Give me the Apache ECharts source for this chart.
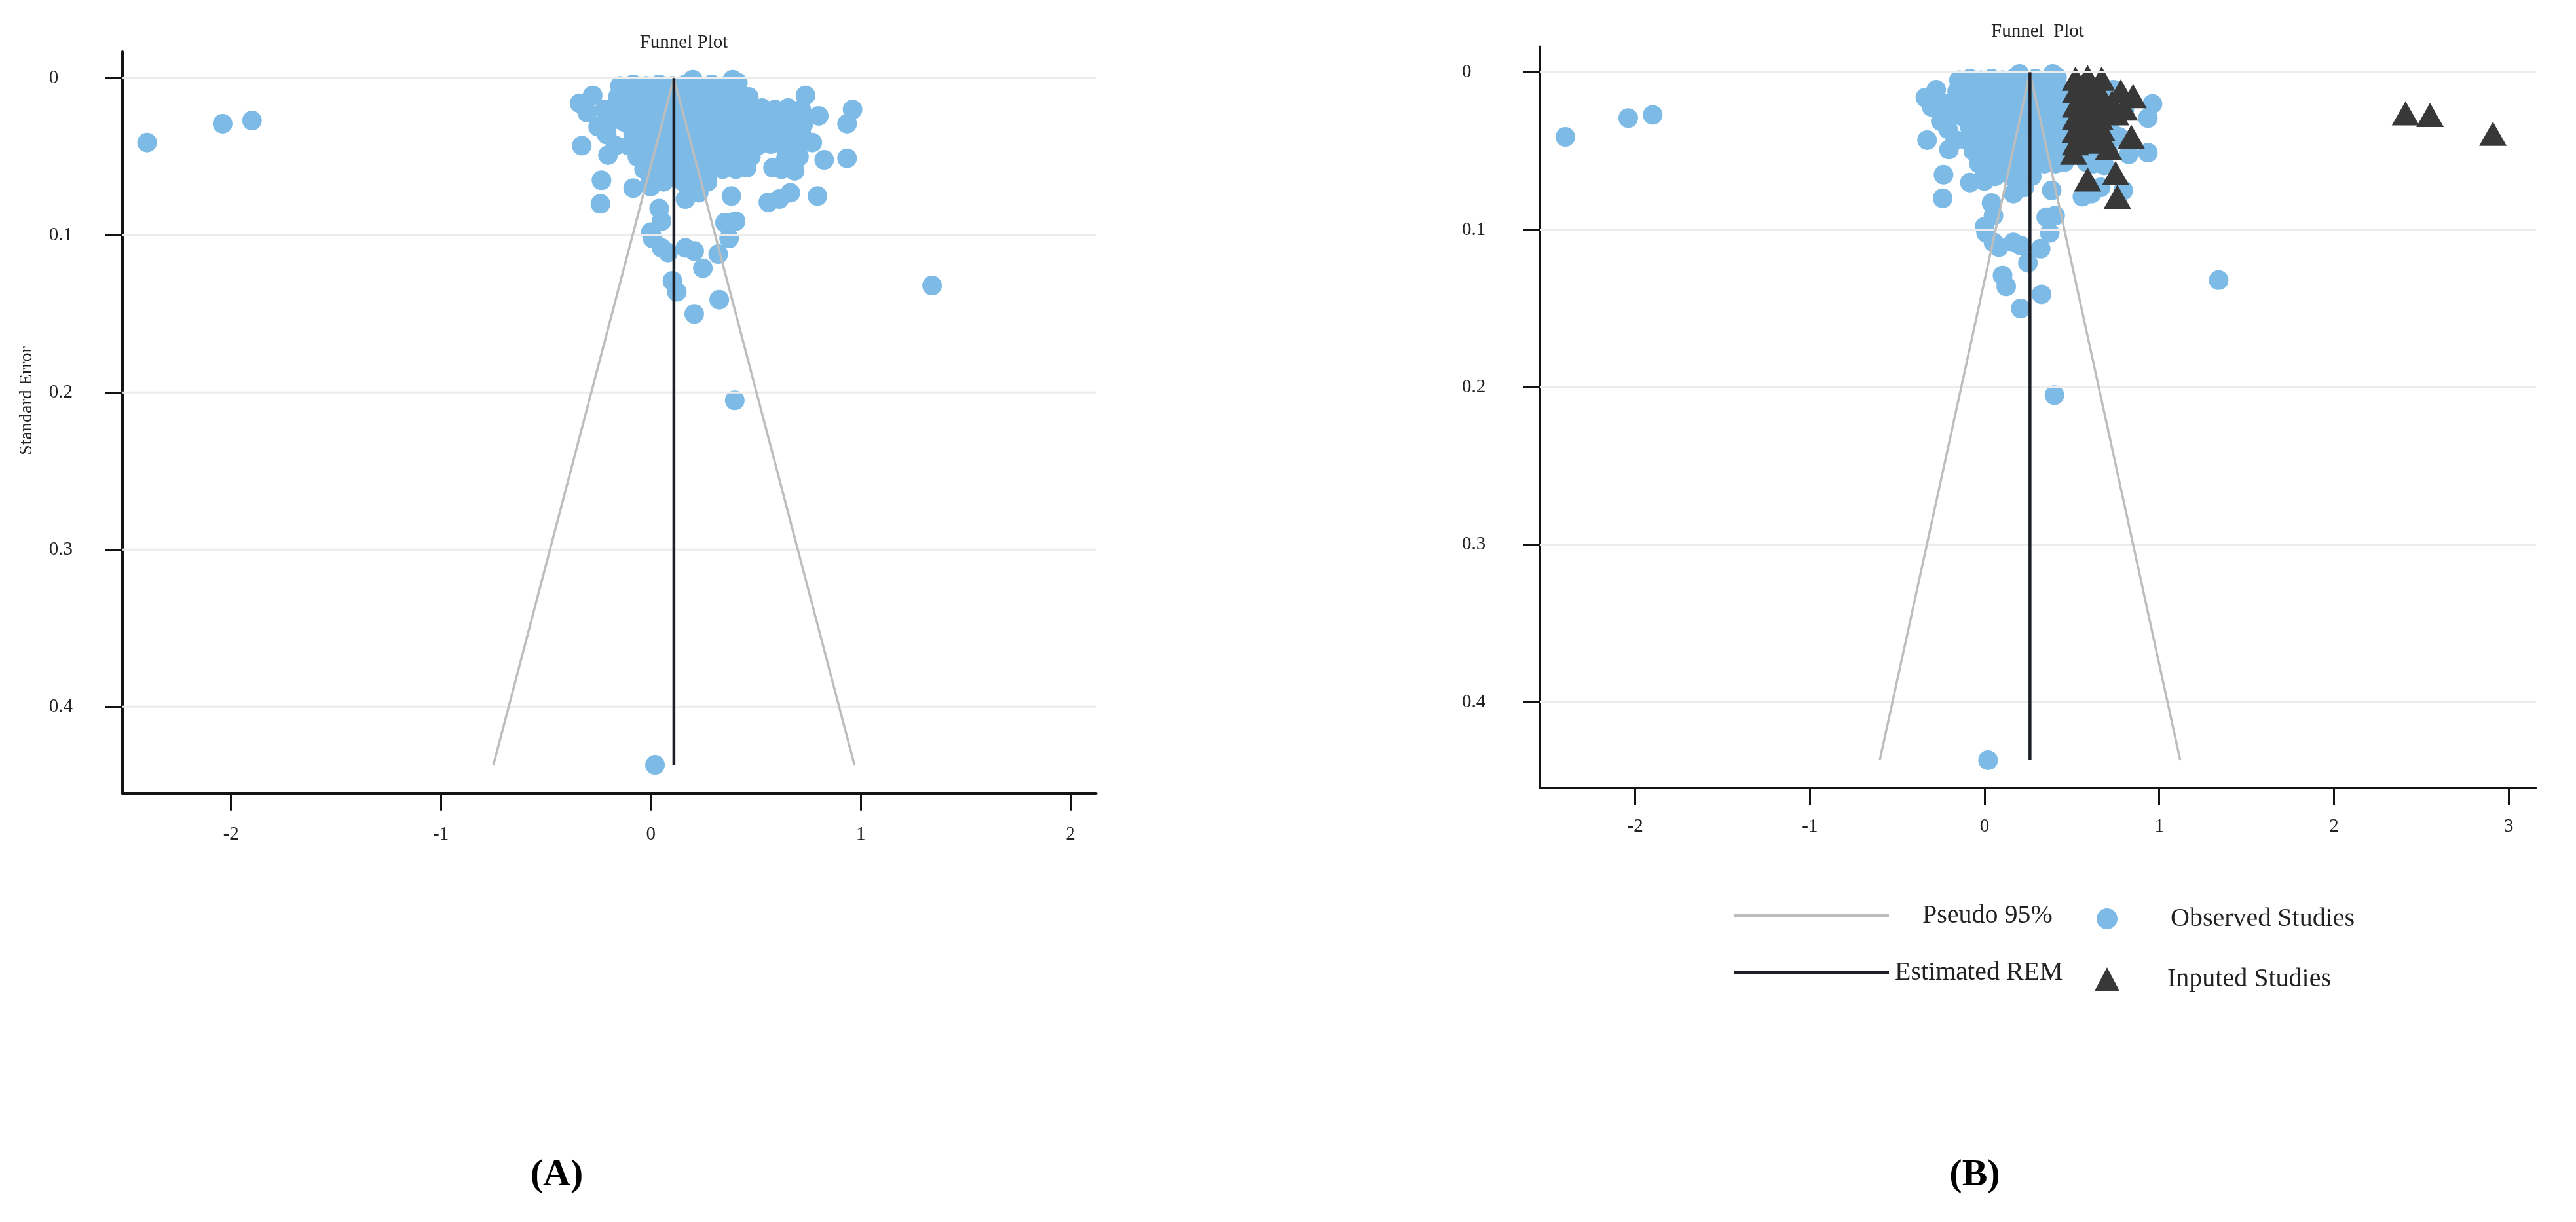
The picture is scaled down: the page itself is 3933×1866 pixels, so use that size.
<!DOCTYPE html>
<html>
<head>
<meta charset="utf-8">
<title>Funnel Plot</title>
<script src="https://cdn.jsdelivr.net/npm/echarts@6/dist/echarts.min.js"></script>
<style>
  html, body { margin: 0; padding: 0; background: #fff; }
  #chart { width: 3933px; height: 1866px; }
</style>
</head>
<body>
<div id="chart"></div>
<script>
// [effect size, standard error]
const observedStudies = [
  // far outliers
  [-2.40, 0.041], [-2.04, 0.029], [-1.90, 0.027], [1.34, 0.132], [0.40, 0.205], [0.02, 0.437],
  // left edge of the cluster
  [-0.339, 0.016], [-0.277, 0.011], [-0.303, 0.022], [-0.251, 0.031], [-0.220, 0.020], [-0.210, 0.036],
  [-0.329, 0.043], [-0.204, 0.049], [-0.168, 0.043], [-0.235, 0.065], [-0.240, 0.080], [-0.084, 0.070],
  [-0.001, 0.069],
  // cluster, top rows
  [-0.147, 0.005], [-0.084, 0.004], [-0.022, 0.005], [0.040, 0.004], [0.103, 0.005], [0.165, 0.004],
  [0.228, 0.005], [0.290, 0.004], [0.353, 0.005], [0.415, 0.003], [0.200, 0.001], [0.390, 0.001],
  [-0.157, 0.012], [-0.095, 0.012], [-0.032, 0.013], [0.030, 0.012], [0.093, 0.012], [0.155, 0.013],
  [0.217, 0.012], [0.280, 0.012], [0.342, 0.012], [0.405, 0.011], [0.467, 0.012], [0.737, 0.011],
  [-0.157, 0.020], [-0.095, 0.020], [-0.032, 0.019], [0.030, 0.020], [0.093, 0.020], [0.155, 0.019],
  [0.217, 0.020], [0.280, 0.020], [0.342, 0.019], [0.405, 0.020], [0.467, 0.020], [0.530, 0.019],
  [0.592, 0.020], [0.654, 0.019], [0.717, 0.020], [0.800, 0.024], [0.961, 0.020],
  [-0.188, 0.027], [-0.126, 0.028], [-0.063, 0.027], [-0.001, 0.027], [0.061, 0.028], [0.124, 0.027],
  [0.186, 0.027], [0.249, 0.028], [0.311, 0.027], [0.373, 0.027], [0.436, 0.028], [0.498, 0.027],
  [0.561, 0.028], [0.623, 0.027], [0.685, 0.028], [0.727, 0.029], [0.935, 0.029],
  // cluster, middle rows
  [-0.084, 0.035], [-0.022, 0.035], [0.040, 0.036], [0.103, 0.035], [0.165, 0.035], [0.228, 0.036],
  [0.290, 0.035], [0.353, 0.035], [0.415, 0.036], [0.477, 0.035], [0.540, 0.035], [0.602, 0.036],
  [0.665, 0.035], [0.717, 0.035],
  [-0.105, 0.043], [-0.053, 0.043], [0.009, 0.042], [0.071, 0.043], [0.134, 0.043], [0.196, 0.042],
  [0.259, 0.043], [0.321, 0.043], [0.384, 0.042], [0.446, 0.043], [0.509, 0.043], [0.571, 0.042],
  [0.634, 0.043], [0.696, 0.043], [0.769, 0.041],
  [-0.064, 0.050], [-0.001, 0.050], [0.061, 0.051], [0.124, 0.050], [0.186, 0.050], [0.249, 0.051],
  [0.311, 0.050], [0.373, 0.050], [0.436, 0.051], [0.477, 0.050], [0.582, 0.057], [0.644, 0.051],
  [0.706, 0.050], [0.826, 0.052], [0.935, 0.051],
  // cluster, lower rows
  [-0.032, 0.058], [0.030, 0.058], [0.093, 0.059], [0.155, 0.058], [0.217, 0.058], [0.280, 0.059],
  [0.342, 0.058], [0.405, 0.058], [0.457, 0.057], [0.623, 0.058], [0.685, 0.059],
  [-0.001, 0.065], [0.061, 0.066], [0.155, 0.066], [0.217, 0.065], [0.270, 0.066],
  [0.165, 0.077], [0.228, 0.073], [0.384, 0.075], [0.560, 0.079], [0.612, 0.077], [0.665, 0.073],
  [0.794, 0.075],
  // tail below the cluster
  [0.040, 0.083], [0.051, 0.091], [0.000, 0.098], [0.009, 0.102], [0.051, 0.108], [0.082, 0.111],
  [0.165, 0.108], [0.207, 0.110], [0.248, 0.121], [0.321, 0.112], [0.103, 0.129], [0.124, 0.136],
  [0.207, 0.150], [0.326, 0.141], [0.353, 0.092], [0.404, 0.091], [0.373, 0.102],
];

const inputedStudies = [
  [0.52, 0.004], [0.59, 0.003], [0.67, 0.004],
  [0.52, 0.012], [0.59, 0.012], [0.66, 0.013], [0.78, 0.012],
  [0.52, 0.021], [0.59, 0.020], [0.66, 0.021], [0.73, 0.019], [0.85, 0.015],
  [0.52, 0.029], [0.59, 0.028], [0.66, 0.029], [0.75, 0.026], [0.80, 0.023],
  [0.52, 0.037], [0.59, 0.037], [0.67, 0.036],
  [0.52, 0.045], [0.60, 0.044], [0.68, 0.042], [0.84, 0.041],
  [0.51, 0.051], [0.71, 0.048],
  [0.59, 0.068], [0.75, 0.064], [0.76, 0.079],
  [2.41, 0.026], [2.55, 0.027], [2.91, 0.039],
];

// pseudo 95% limits: bottom-left, apex, bottom-right
const pseudoA = [[-0.75, 0.437], [0.11, 0], [0.97, 0.437]];
const pseudoB = [[-0.60, 0.437], [0.26, 0], [1.12, 0.437]];
const estimateA = [[0.11, 0], [0.11, 0.437]];
const estimateB = [[0.26, 0], [0.26, 0.437]];

const xTicksA = [-2, -1, 0, 1, 2];
const xTicksB = [-2, -1, 0, 1, 2, 3];
const seTicks = [0, 0.1, 0.2, 0.3, 0.4];
const xRangeA = [-2.518, 2.122];
const xRangeB = [-2.546, 3.157];
const seRangeA = [-0.0168, 0.4552];
const seRangeB = [-0.0163, 0.4545];

const FONT = 'Liberation Serif';
const TEXT = '#222';
const AXIS = '#141414';
const BLUE = '#7dbbe6';
const DARK = '#383838';
const GREY = '#bdbdbd';
const EST = '#1c1f28';

const gridRows = (xr) => seTicks.flatMap((v) => [[xr[0], v], [xr[1], v], [xr[1], '-']]);

const xAxisOf = (gridIndex, range, ticks) => ({
  gridIndex,
  type: 'value',
  min: range[0],
  max: range[1],
  axisLine: { onZero: false, lineStyle: { color: AXIS, width: 4 } },
  axisTick: { customValues: ticks, length: 26, lineStyle: { color: AXIS, width: 3 } },
  axisLabel: {
    customValues: ticks,
    margin: gridIndex === 0 ? 48 : 45,
    fontFamily: FONT,
    fontSize: 29,
    color: TEXT,
  },
  splitLine: { show: false },
});

const yAxisOf = (gridIndex, range) => ({
  gridIndex,
  type: 'value',
  inverse: true,
  min: range[0],
  max: range[1],
  axisLine: { onZero: false, lineStyle: { color: AXIS, width: 4 } },
  axisTick: { customValues: seTicks, length: 26, lineStyle: { color: AXIS, width: 3 } },
  axisLabel: {
    customValues: seTicks,
    align: 'left',
    margin: gridIndex === 0 ? 112 : 119,
    fontFamily: FONT,
    fontSize: 29,
    color: TEXT,
  },
  splitLine: { show: false },
});

const panelSeries = (i, xr, pseudo, estimate) => [
  {
    type: 'line',
    xAxisIndex: i,
    yAxisIndex: i,
    data: gridRows(xr),
    symbol: 'none',
    silent: true,
    connectNulls: false,
    lineStyle: { color: '#ececec', width: 3 },
  },
  {
    name: 'Pseudo 95%',
    type: 'line',
    xAxisIndex: i,
    yAxisIndex: i,
    data: pseudo,
    symbol: 'none',
    itemStyle: { color: GREY },
    lineStyle: { color: GREY, width: 3.5 },
  },
  {
    name: 'Observed Studies',
    type: 'scatter',
    xAxisIndex: i,
    yAxisIndex: i,
    data: observedStudies,
    symbol: 'circle',
    symbolSize: 30,
    itemStyle: { color: BLUE, opacity: 1 },
  },
  {
    name: 'Estimated REM',
    type: 'line',
    xAxisIndex: i,
    yAxisIndex: i,
    data: estimate,
    symbol: 'none',
    itemStyle: { color: EST },
    lineStyle: { color: EST, width: 4.5 },
  },
];

const legendOf = (item, left, top, extra, pad) => ({
  data: [item],
  left,
  top,
  padding: 0,
  orient: 'vertical',
  selectedMode: false,
  formatter: '{t|{name}}',
  textStyle: {
    color: TEXT,
    fontFamily: FONT,
    fontSize: 40,
    rich: { t: { padding: [0, 0, 0, pad], color: TEXT, fontFamily: FONT, fontSize: 40 } },
  },
  ...extra,
});

const option = {
  animation: false,
  backgroundColor: '#ffffff',
  grid: [
    { left: 186.7, top: 79, width: 1487, height: 1132.7, containLabel: false },
    { left: 2351, top: 71.4, width: 1521, height: 1131.6, containLabel: false },
  ],
  xAxis: [xAxisOf(0, xRangeA, xTicksA), xAxisOf(1, xRangeB, xTicksB)],
  yAxis: [yAxisOf(0, seRangeA), yAxisOf(1, seRangeB)],
  legend: [
    legendOf({ name: 'Pseudo 95%', icon: 'rect' }, 2648, 1378,
      { itemWidth: 236, itemHeight: 5, itemStyle: { color: GREY, borderWidth: 0 } }, 46),
    legendOf({ name: 'Estimated REM', icon: 'rect' }, 2648, 1465,
      { itemWidth: 236, itemHeight: 6, itemStyle: { color: EST, borderWidth: 0 } }, 4),
    legendOf({ name: 'Observed Studies', icon: 'circle' }, 3201, 1383,
      { itemWidth: 32, itemHeight: 32, itemStyle: { color: BLUE, borderWidth: 0 } }, 76),
    legendOf({ name: 'Inputed Studies', icon: 'triangle' }, 3198, 1475,
      { itemWidth: 38, itemHeight: 36, itemStyle: { color: DARK, borderWidth: 0 } }, 68),
  ],
  graphic: [
    {
      type: 'text', x: 1044, y: 65,
      style: { text: 'Funnel Plot', font: `29px "${FONT}"`, fill: TEXT, align: 'center', verticalAlign: 'middle' },
    },
    {
      type: 'text', x: 3111, y: 48,
      style: { text: 'Funnel  Plot', font: `29px "${FONT}"`, fill: TEXT, align: 'center', verticalAlign: 'middle' },
    },
    {
      type: 'text', x: 41, y: 612, rotation: Math.PI / 2,
      style: { text: 'Standard Error', font: `28px "${FONT}"`, fill: TEXT, align: 'center', verticalAlign: 'middle' },
    },
    {
      type: 'text', x: 850, y: 1795,
      style: { text: '(A)', font: `bold 58px "${FONT}"`, fill: '#000', align: 'center', verticalAlign: 'middle' },
    },
    {
      type: 'text', x: 3015, y: 1795,
      style: { text: '(B)', font: `bold 58px "${FONT}"`, fill: '#000', align: 'center', verticalAlign: 'middle' },
    },
  ],
  series: [
    ...panelSeries(0, xRangeA, pseudoA, estimateA),
    ...panelSeries(1, xRangeB, pseudoB, estimateB),
    {
      name: 'Inputed Studies',
      type: 'scatter',
      xAxisIndex: 1,
      yAxisIndex: 1,
      data: inputedStudies,
      symbol: 'triangle',
      symbolSize: [42, 37],
      itemStyle: { color: DARK, opacity: 1 },
    },
  ],
};

const chart = echarts.init(document.getElementById('chart'), null, { renderer: 'canvas' });
chart.setOption(option);
</script>
</body>
</html>
